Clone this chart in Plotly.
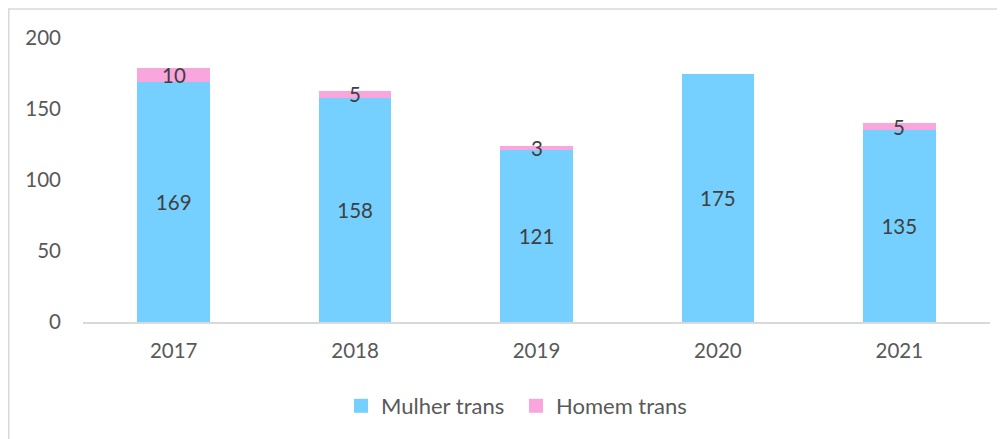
import plotly.graph_objects as go

years = ["2017", "2018", "2019", "2020", "2021"]
mulher_trans = [169, 158, 121, 175, 135]
homem_trans = [10, 5, 3, 0, 5]
y_ticks = [0, 50, 100, 150, 200]
series_names = ["Mulher trans", "Homem trans"]

BLUE = "#75D0FF"
PINK = "#F9A6DC"
FONT = "Lato, Open Sans, sans-serif"
FS = 20.5
FL = 22

fig = go.Figure()
fig.add_trace(go.Bar(
    x=years, y=mulher_trans, name=series_names[0], legendgroup="m", showlegend=False,
    marker=dict(color=BLUE, line=dict(width=0)),
    text=[str(v) for v in mulher_trans], textposition="inside",
    insidetextanchor="middle", textangle=0,
    textfont=dict(size=FS, color="#404040", family=FONT),
))
fig.add_trace(go.Bar(
    x=years, y=homem_trans, name=series_names[1], legendgroup="h", showlegend=False,
    marker=dict(color=PINK, line=dict(width=0)),
    hoverinfo="x+y",
))
# legend entries with larger square swatches
for nm, col, grp in zip(series_names, [BLUE, PINK], ["m", "h"]):
    fig.add_trace(go.Scatter(
        x=[None], y=[None], mode="markers", name=nm, legendgroup=grp,
        marker=dict(symbol="square", size=14, color=col, line=dict(width=0)),
        showlegend=True,
    ))

# category axis: annotations positioned by category serial number
for i, (m, h) in enumerate(zip(mulher_trans, homem_trans)):
    if h > 0:
        fig.add_annotation(x=i, y=m + h / 2, text=str(h), showarrow=False,
                           font=dict(size=FS, color="#404040", family=FONT),
                           xanchor="center", yanchor="middle")

W, H = 1005, 439
ml, mr, mt, mb = 75, 23, 30, 125
pw, ph = W - ml - mr, H - mt - mb

fig.add_shape(type="rect", xref="paper", yref="paper",
              x0=(0.75 - ml) / pw, x1=1.2, y0=-0.6, y1=(H - mb - 1) / ph,
              line=dict(color="#D9D9D9", width=1.5), fillcolor="rgba(0,0,0,0)", layer="below")

fig.update_layout(
    barmode="stack", bargap=0.6,
    width=W, height=H,
    margin=dict(l=ml, r=mr, t=mt, b=mb),
    plot_bgcolor="white", paper_bgcolor="white",
    font=dict(family=FONT, size=FS, color="#595959"),
    xaxis=dict(type="category", range=[-0.5, len(years) - 0.5], showline=True,
               linecolor="#D9D9D9", linewidth=1.5, ticks="",
               showgrid=False, tickfont=dict(size=FS, color="#595959"), ticklabelstandoff=10),
    yaxis=dict(range=[0, 200], tickvals=y_ticks, showgrid=False, zeroline=False,
               showline=False, ticks="", tickfont=dict(size=FS, color="#595959"),
               ticklabelstandoff=21),
    legend=dict(orientation="h", x=(508 - ml) / pw, xanchor="center", y=(H - mb - 398) / ph,
                yanchor="middle", font=dict(size=FL, color="#595959"), traceorder="normal",
                itemsizing="trace", entrywidth=130, entrywidthmode="pixels"),
    showlegend=True,
)

fig.write_html("out.html")
